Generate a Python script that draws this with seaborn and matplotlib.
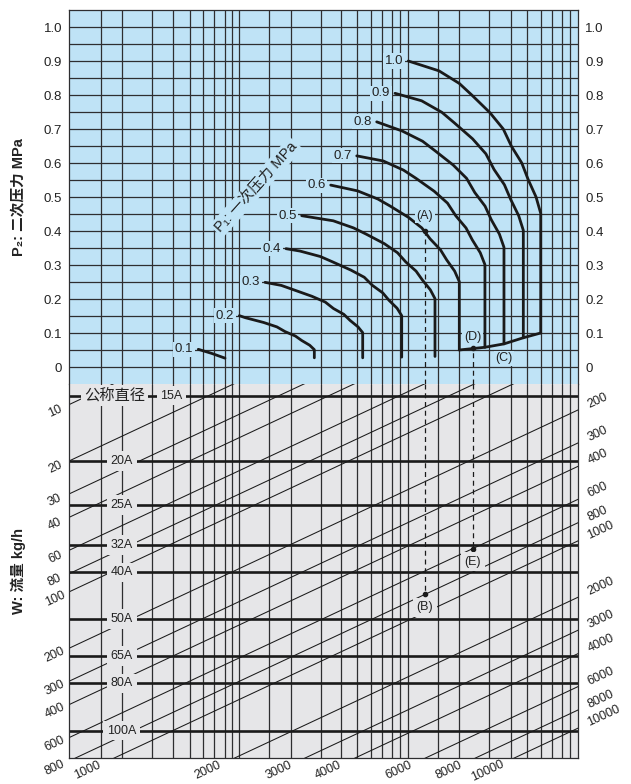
import numpy as np
import pandas as pd
import matplotlib
matplotlib.use("Agg")
import matplotlib.pyplot as plt
from matplotlib.ticker import NullLocator, FixedLocator
import seaborn as sns

sns.set_theme(style="white")
plt.rcParams["font.family"] = ["Liberation Sans", "Noto Sans CJK SC", "DejaVu Sans"]

# x axis: flow factor q on a log scale (left edge = 1)
x_min, x_max = 1.0, 18.76
grid_q = [1.204, 1.359, 1.610, 1.823, 2.011, 2.159, 2.305, 2.451, 2.552, 2.666,
          3.168, 3.583, 4.259, 4.786, 5.258, 5.689, 6.071, 6.408, 6.722, 7.051,
          8.381, 9.441, 11.22, 12.74, 13.99, 15.11, 16.13, 17.05, 17.92]

# top panel: P2 (secondary pressure) vs q for each P1 (primary pressure)
p2_ticks = [0, 0.1, 0.2, 0.3, 0.4, 0.5, 0.6, 0.7, 0.8, 0.9, 1.0]
p2_tick_labels = ["0", "0.1", "0.2", "0.3", "0.4", "0.5", "0.6", "0.7", "0.8", "0.9", "1.0"]
p2_grid = [0, 0.05, 0.1, 0.15, 0.2, 0.25, 0.3, 0.35, 0.4, 0.45, 0.5,
           0.55, 0.6, 0.65, 0.7, 0.75, 0.8, 0.85, 0.9, 0.95, 1.0]

q_01 = [2.105, 2.274, 2.455]
p2_01 = [0.052, 0.040, 0.026]
q_02 = [2.666, 2.760, 3.065, 3.309, 3.470, 3.682, 3.817, 3.997, 4.105, 4.105]
p2_02 = [0.151, 0.145, 0.131, 0.118, 0.104, 0.091, 0.078, 0.064, 0.051, 0.027]
q_03 = [3.090, 3.394, 3.646, 4.048, 4.371, 4.583, 4.863, 5.043, 5.279, 5.423, 5.423]
p2_03 = [0.249, 0.240, 0.227, 0.208, 0.191, 0.172, 0.155, 0.137, 0.118, 0.101, 0.027]
q_04 = [3.487, 3.780, 4.248, 4.564, 5.067, 5.471, 5.736, 6.087, 6.311, 6.608, 6.788, 6.788]
p2_04 = [0.348, 0.341, 0.325, 0.309, 0.285, 0.264, 0.240, 0.218, 0.196, 0.173, 0.151, 0.029]
q_05 = [3.817, 4.578, 5.146, 5.528, 6.137, 6.627, 6.948, 7.373, 7.645, 8.004, 8.222, 8.222]
p2_05 = [0.445, 0.430, 0.409, 0.391, 0.363, 0.336, 0.309, 0.282, 0.256, 0.227, 0.201, 0.031]
q_06 = [4.511, 5.266, 5.919, 6.359, 7.060, 7.623, 7.993, 8.481, 8.794, 9.207, 9.457, 9.457]
p2_06 = [0.535, 0.518, 0.494, 0.473, 0.440, 0.409, 0.377, 0.345, 0.315, 0.282, 0.251, 0.050]
q_07 = [5.240, 6.104, 6.860, 7.370, 8.183, 8.835, 9.263, 9.829, 10.19, 10.67, 10.96, 10.96]
p2_07 = [0.621, 0.606, 0.579, 0.555, 0.517, 0.482, 0.445, 0.409, 0.374, 0.336, 0.301, 0.058]
q_08 = [5.878, 6.810, 7.655, 8.224, 9.130, 9.859, 10.34, 10.97, 11.37, 11.91, 12.23, 12.23]
p2_08 = [0.721, 0.694, 0.664, 0.636, 0.594, 0.555, 0.513, 0.473, 0.433, 0.391, 0.352, 0.068]
q_09 = [6.531, 7.612, 8.556, 9.192, 10.21, 11.02, 11.55, 12.26, 12.71, 13.31, 13.67, 13.67]
p2_09 = [0.805, 0.783, 0.749, 0.718, 0.671, 0.627, 0.581, 0.536, 0.493, 0.445, 0.402, 0.086]
q_10 = [7.051, 8.414, 9.457, 10.16, 11.28, 12.18, 12.77, 13.55, 14.05, 14.71, 15.11, 15.11]
p2_10 = [0.900, 0.871, 0.834, 0.800, 0.748, 0.700, 0.649, 0.600, 0.552, 0.500, 0.452, 0.100]

p1_labels = ["0.1", "0.2", "0.3", "0.4", "0.5", "0.6", "0.7", "0.8", "0.9", "1.0"]
curve_q = [q_01, q_02, q_03, q_04, q_05, q_06, q_07, q_08, q_09, q_10]
curve_p2 = [p2_01, p2_02, p2_03, p2_04, p2_05, p2_06, p2_07, p2_08, p2_09, p2_10]

# lower limit curve (C)
q_c = [9.457, 10.96, 12.23, 13.67, 15.11]
p2_c = [0.050, 0.058, 0.068, 0.086, 0.100]

# bottom panel: flow W lines (W = q * y) and nominal diameter lines
w_values = [10, 20, 30, 40, 60, 80, 100, 200, 300, 400, 600, 800,
            1000, 2000, 3000, 4000, 6000, 8000, 10000]
w_left = [10, 20, 30, 40, 60, 80, 100, 200, 300, 400, 600, 800]
w_bottom = [1000, 2000, 3000, 4000, 6000, 8000, 10000]
w_right = [200, 300, 400, 600, 800, 1000, 2000, 3000, 4000, 6000, 8000, 10000]
y_min, y_max = 7.76, 770.6

dn_labels = ["15A", "20A", "25A", "32A", "40A", "50A", "65A", "80A", "100A"]
dn_y = [8.96, 20.0, 34.4, 56.2, 78.6, 139.5, 219.9, 307.6, 550.8]

# worked examples (A)->(B) and (D)->(E)
ex_q = [7.762, 10.21]
ex_p2 = [0.401, 0.055]
ex_w = [800, 600]

blue = "#bfe3f6"
grey = "#e6e6e8"
ink = "#1a1a1a"
gcol = "#2e2e30"

fig = plt.figure(figsize=(6.31, 7.84), dpi=100)
L, R = 69 / 631, 578.3 / 631
ax_top = fig.add_axes([L, 1 - 384 / 784, R - L, 374 / 784])
ax_bot = fig.add_axes([L, 1 - 758 / 784, R - L, 374 / 784])

for ax in (ax_top, ax_bot):
    ax.set_xscale("log")
    ax.set_xlim(x_min, x_max)
    ax.xaxis.set_major_locator(FixedLocator(grid_q))
    ax.xaxis.set_minor_locator(NullLocator())
    ax.tick_params(axis="x", length=0, labelbottom=False)
    ax.grid(axis="x", color=gcol, lw=0.9)
    for s in ax.spines.values():
        s.set_color(gcol)
        s.set_linewidth(0.9)

# ---- top panel
ax_top.set_facecolor(blue)
ax_top.set_ylim(-0.05, 1.05)
ax_top.set_yticks(p2_ticks, p2_tick_labels)
ax_top.yaxis.set_minor_locator(FixedLocator(p2_grid))
ax_top.grid(axis="y", which="both", color=gcol, lw=0.9)
ax_top.tick_params(axis="y", which="both", length=0, labelsize=9.5, colors="#222",
                   labelleft=True, labelright=True, pad=5)
ax_top.spines["bottom"].set_visible(False)

rows = []
for lab, qs, ps in zip(p1_labels, curve_q, curve_p2):
    for qq, pp in zip(qs, ps):
        rows.append({"P1": lab, "q": qq, "P2": pp})
curves = pd.DataFrame(rows)
sns.lineplot(data=curves, x="q", y="P2", units="P1", estimator=None, sort=False,
             color=ink, lw=2.0, ax=ax_top, legend=False)
sns.lineplot(x=q_c, y=p2_c, sort=False, estimator=None, color=ink, lw=2.0, ax=ax_top)
ax_top.set_xlabel("")
ax_top.set_ylabel("")

box_b = dict(boxstyle="square,pad=0.12", fc=blue, ec="none")
for lab, qs, ps in zip(p1_labels, curve_q, curve_p2):
    ax_top.annotate(lab, (qs[0], ps[0]), xytext=(-5, 0), textcoords="offset pixels",
                    ha="right", va="center", fontsize=9.5, color="#222", bbox=box_b)

ax_top.text(2.934, 0.529, "P₁: 一次压力 MPa", rotation=48, ha="center", va="center",
            fontsize=10.5, color="#222", bbox=dict(boxstyle="square,pad=0.15", fc=blue, ec="none"))

# ---- bottom panel
ax_bot.set_facecolor(grey)
ax_bot.set_yscale("log")
ax_bot.yaxis.set_major_locator(NullLocator())
ax_bot.yaxis.set_minor_locator(NullLocator())
ax_bot.tick_params(axis="y", length=0, labelleft=False)
ax_bot.spines["top"].set_visible(False)

wrows = []
for w in w_values:
    for qq in (0.8, 25.0):
        wrows.append({"W": w, "q": qq, "y": w / qq})
wlines = pd.DataFrame(wrows)
sns.lineplot(data=wlines, x="q", y="y", units="W", estimator=None, sort=False,
             color=ink, lw=0.75, ax=ax_bot, legend=False)
ax_bot.set_xlim(x_min, x_max)
ax_bot.set_ylim(y_max, y_min)
ax_bot.set_xlabel("")
ax_bot.set_ylabel("")

for yv in dn_y:
    ax_bot.axhline(yv, color=ink, lw=1.9)

box_g = dict(boxstyle="square,pad=0.3", fc=grey, ec="none")
ax_bot.text(1.299, dn_y[0], "公称直径", ha="center", va="center", fontsize=11,
            color="#222", bbox=dict(boxstyle="square,pad=0.2", fc=grey, ec="none"))
ax_bot.text(1.804, dn_y[0], dn_labels[0], ha="center", va="center", fontsize=9,
            color="#222", bbox=box_g)
for lab, yv in zip(dn_labels[1:], dn_y[1:]):
    ax_bot.text(1.355, yv, lab, ha="center", va="center", fontsize=9,
                color="#222", bbox=box_g)

lab_kw = dict(rotation=25, rotation_mode="anchor", va="center", fontsize=9, color="#222")
for w in w_left:
    ax_bot.text(0.9226, w / 0.9226, str(w), ha="center", **lab_kw)
for w in w_bottom:
    ax_bot.text(w / 898.0, 898.0, str(w), ha="center", **lab_kw)
for w in w_right:
    ax_bot.text(19.86, w / 19.86, str(w), ha="left", **lab_kw)

# ---- worked examples
for (qq, pp, w), (l1, l2) in zip(zip(ex_q, ex_p2, ex_w), [("(A)", "(B)"), ("(D)", "(E)")]):
    yb = w / qq
    ax_top.vlines(qq, -0.05, pp, colors=ink, lw=0.9, linestyles=(0, (4, 3)))
    ax_bot.vlines(qq, y_min, yb, colors=ink, lw=0.9, linestyles=(0, (4, 3)))
    ax_top.plot([qq], [pp], "o", color=ink, ms=3)
    ax_bot.plot([qq], [yb], "o", color=ink, ms=3)
    up = 15 if l1 == "(A)" else 11
    ax_top.annotate(l1, (qq, pp), xytext=(0, up), textcoords="offset pixels", ha="center",
                    va="center", fontsize=9, color="#222", bbox=box_b)
    ax_bot.annotate(l2, (qq, yb), xytext=(0, -13), textcoords="offset pixels", ha="center",
                    va="center", fontsize=9, color="#222", bbox=box_g)
ax_top.text(12.25, 0.026, "(C)", ha="center", va="center", fontsize=9, color="#222", bbox=box_b)

fig.text(18 / 631, 1 - 197 / 784, "P₂: 二次压力 MPa", rotation=90, ha="center", va="center",
         fontsize=10.5, fontweight="bold", color="#222")
fig.text(18 / 631, 1 - 571 / 784, "W: 流量 kg/h", rotation=90, ha="center", va="center",
         fontsize=10.5, fontweight="bold", color="#222")

fig.savefig("out.png", dpi=100, facecolor="white")
